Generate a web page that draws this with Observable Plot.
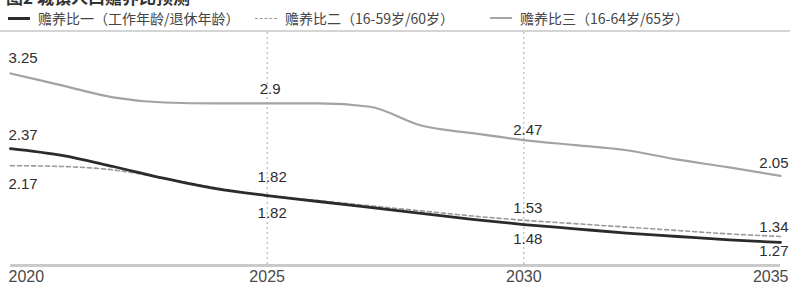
<!DOCTYPE html>
<html>
<head>
<meta charset="utf-8">
<script src="https://cdn.jsdelivr.net/npm/d3@7"></script>
<script src="https://cdn.jsdelivr.net/npm/@observablehq/plot@0.6"></script>
<style>
  html, body { margin: 0; padding: 0; background: #fff; }
  body { width: 790px; height: 282px; overflow: hidden; font-family: "Noto Sans CJK SC", "Liberation Sans", sans-serif; }
  #title { height: 6px; overflow: hidden; }
  #title div { margin-top: -12px; font-size: 17px; font-weight: bold; color: #333; padding-left: 6px; line-height: 18px; }
  #legend { position: relative; height: 24px; border-bottom: 2px solid #d4d4d4; font-size: 14px; color: #444; }
  .item { position: absolute; top: 3px; display: flex; align-items: center; height: 18px; white-space: nowrap; }
  .sym { display: inline-block; width: 22px; margin-right: 8px; }
  #chart svg { display: block; }
</style>
</head>
<body>
<div id="title"><div>图2 城镇人口赡养比预测</div></div>
<div id="legend"></div>
<div id="chart"></div>
<script>
// ---- data ----
const years = [2020, 2021, 2022, 2023, 2024, 2025, 2026, 2027, 2028, 2029, 2030, 2031, 2032, 2033, 2034, 2035];
const ratio1 = [2.37, 2.29, 2.16, 2.02, 1.90, 1.82, 1.75, 1.68, 1.61, 1.54, 1.48, 1.43, 1.38, 1.34, 1.30, 1.27];
const ratio2 = [2.17, 2.16, 2.12, 2.02, 1.91, 1.82, 1.76, 1.70, 1.64, 1.58, 1.53, 1.49, 1.45, 1.41, 1.37, 1.34];
const ratio3 = [3.25, 3.11, 2.97, 2.91, 2.90, 2.90, 2.90, 2.86, 2.64, 2.55, 2.47, 2.41, 2.35, 2.24, 2.15, 2.05];
const seriesNames = ["赡养比一（工作年龄/退休年龄）", "赡养比二（16-59岁/60岁）", "赡养比三（16-64岁/65岁）"];
const labelYears = [2020, 2025, 2030, 2035];
const tickYears = [2020, 2025, 2030, 2035];

// ---- legend ----
const legendPos = [8, 255, 490];
const legendSym = [
  "border-top:3px solid #2b2b2b;",
  "border-top:1.5px dashed #9a9a9a;",
  "border-top:2px solid #a5a5a5;"
];
const legend = document.getElementById("legend");
seriesNames.forEach((n, i) => {
  const d = document.createElement("div");
  d.className = "item";
  d.style.left = legendPos[i] + "px";
  d.innerHTML = `<span class="sym" style="${legendSym[i]}"></span><span>${n}</span>`;
  legend.appendChild(d);
});

// ---- build tables ----
const rows = (vals) => years.map((y, i) => ({year: y, v: vals[i]}));
const s1 = rows(ratio1), s2 = rows(ratio2), s3 = rows(ratio3);
const pick = (s) => s.filter(d => labelYears.includes(d.year));
const l1 = pick(s1), l2 = pick(s2), l3 = pick(s3);

const numFont = {fontFamily: "Liberation Sans, Arial, sans-serif", fontSize: 15, fill: "#2e2e2e"};
const at = (s, y) => s.filter(d => d.year === y);

const chart = Plot.plot({
  width: 790,
  height: 250,
  marginLeft: 10,
  marginRight: 10,
  marginTop: 0,
  marginBottom: 17,
  x: {domain: [2020, 2035]},
  y: {domain: [1.0, 3.73], axis: null},
  style: {background: "white"},
  marks: [
    Plot.ruleX([2025, 2030], {stroke: "#a8a8a8", strokeWidth: 1, strokeDasharray: "2,3"}),
    Plot.line(s3, {x: "year", y: "v", curve: "monotone-x", stroke: "#a3a3a3", strokeWidth: 2.2}),
    Plot.line(s2, {x: "year", y: "v", curve: "monotone-x", stroke: "#9a9a9a", strokeWidth: 1.6, strokeDasharray: "4,3"}),
    Plot.line(s1, {x: "year", y: "v", curve: "monotone-x", stroke: "#2b2b2b", strokeWidth: 2.8}),
    Plot.ruleY([1.0], {stroke: "#cacaca", strokeWidth: 3}),
    // series 3 labels
    Plot.text(at(s3, 2020), {x: "year", y: "v", text: d => d.v.toFixed(2), textAnchor: "start", dx: -2, dy: -15, ...numFont}),
    Plot.text(at(s3, 2025), {x: "year", y: "v", text: d => String(d.v), dx: 3, dy: -14, ...numFont}),
    Plot.text(at(s3, 2030), {x: "year", y: "v", text: d => d.v.toFixed(2), dx: 4, dy: -10, ...numFont}),
    Plot.text(at(s3, 2035), {x: "year", y: "v", text: d => d.v.toFixed(2), textAnchor: "end", dx: 8, dy: -13, ...numFont}),
    // series 1 labels
    Plot.text(at(s1, 2020), {x: "year", y: "v", text: d => d.v.toFixed(2), textAnchor: "start", dx: -2, dy: -13, ...numFont}),
    Plot.text(at(s1, 2025), {x: "year", y: "v", text: d => d.v.toFixed(2), dx: 5, dy: 18, ...numFont}),
    Plot.text(at(s1, 2030), {x: "year", y: "v", text: d => d.v.toFixed(2), dx: 4, dy: 15, ...numFont}),
    Plot.text(at(s1, 2035), {x: "year", y: "v", text: d => d.v.toFixed(2), textAnchor: "end", dx: 8, dy: 9, ...numFont}),
    // series 2 labels
    Plot.text(at(s2, 2020), {x: "year", y: "v", text: d => d.v.toFixed(2), textAnchor: "start", dx: -2, dy: 19, ...numFont}),
    Plot.text(at(s2, 2025), {x: "year", y: "v", text: d => d.v.toFixed(2), dx: 5, dy: -18, ...numFont}),
    Plot.text(at(s2, 2030), {x: "year", y: "v", text: d => d.v.toFixed(2), dx: 4, dy: -12, ...numFont}),
    Plot.text(at(s2, 2035), {x: "year", y: "v", text: d => d.v.toFixed(2), textAnchor: "end", dx: 8, dy: -9, ...numFont}),
    // x axis
    Plot.axisX([2025, 2030], {tickSize: 0, tickPadding: 5, tickFormat: d => String(d), fontSize: 16, fill: "#4a4a4a", fontFamily: "Liberation Sans, Arial, sans-serif", label: null}),
    Plot.axisX([2020], {tickSize: 0, tickPadding: 5, tickFormat: d => String(d), textAnchor: "start", dx: -2, fontSize: 16, fill: "#4a4a4a", fontFamily: "Liberation Sans, Arial, sans-serif", label: null}),
    Plot.axisX([2035], {tickSize: 0, tickPadding: 5, tickFormat: d => String(d), textAnchor: "end", dx: 8, fontSize: 16, fill: "#4a4a4a", fontFamily: "Liberation Sans, Arial, sans-serif", label: null})
  ]
});
document.getElementById("chart").appendChild(chart);
</script>
</body>
</html>
